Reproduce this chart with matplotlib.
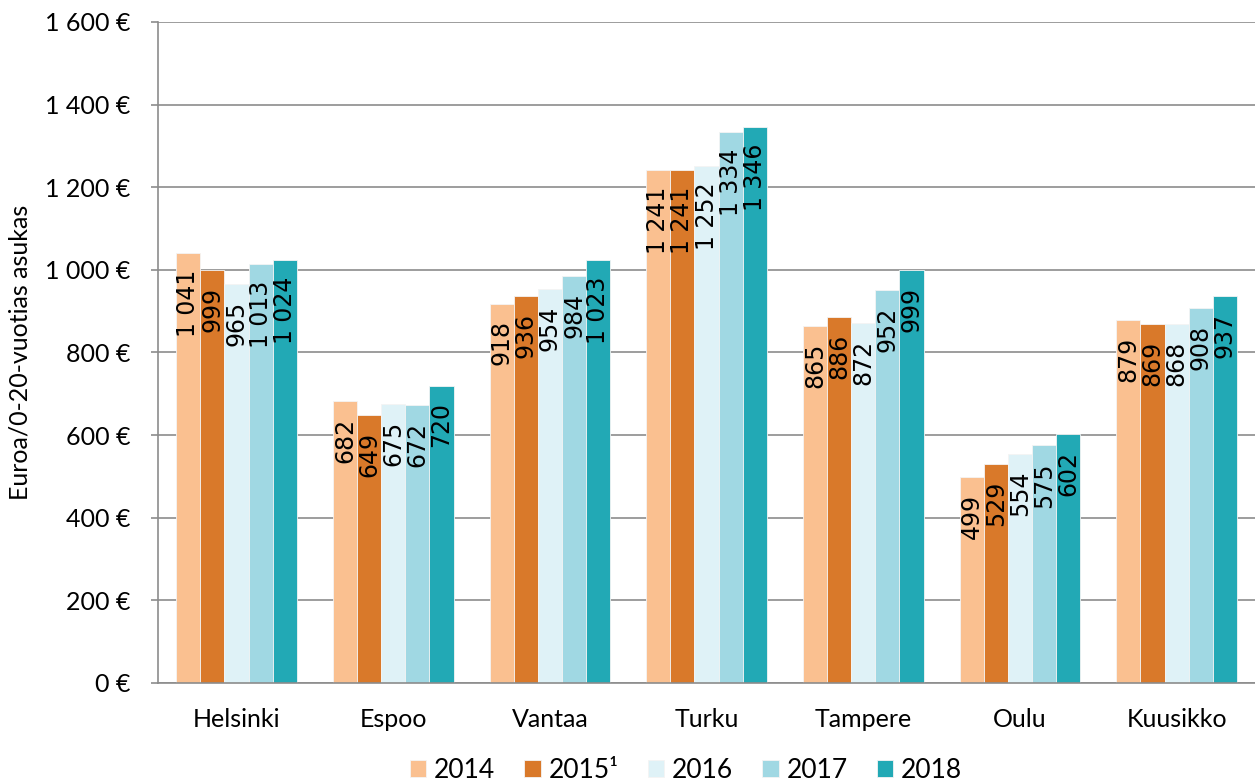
import numpy as np
import matplotlib.pyplot as plt
from matplotlib import rcParams

rcParams["font.family"] = ["Lato", "DejaVu Sans"]

cities = ["Helsinki", "Espoo", "Vantaa", "Turku", "Tampere", "Oulu", "Kuusikko"]
years = ["2014", "2015¹", "2016", "2017", "2018"]
v2014 = [1041, 682, 918, 1241, 865, 499, 879]
v2015 = [999, 649, 936, 1241, 886, 529, 869]
v2016 = [965, 675, 954, 1252, 872, 554, 868]
v2017 = [1013, 672, 984, 1334, 952, 575, 908]
v2018 = [1024, 720, 1023, 1346, 999, 602, 937]
colors = ["#FAC090", "#D9792A", "#DFF2F7", "#A0D8E3", "#22A9B5"]


def fmt(v):
	return f"{v:,}".replace(",", " ")


def main() -> None:
	series = [v2014, v2015, v2016, v2017, v2018]
	fig = plt.figure(figsize=(12.55, 7.82), dpi=100)
	ax = fig.add_axes([0.126, 0.1266, 0.874, 0.8453])

	x = np.arange(len(cities))
	w = 0.154
	for i, (vals, col, lab) in enumerate(zip(series, colors, years)):
		pos = x + (i - 2) * w
		ax.bar(pos, vals, w, color=col, label=lab, edgecolor="#f4f4f4",
			linewidth=0.6, zorder=2)
		for p, v in zip(pos, vals):
			ax.annotate(fmt(v), (p, v), xytext=(0, -12), textcoords="offset points",
				rotation=90, ha="center", va="top", fontsize=17,
				family=["DejaVu Sans"], color="black", zorder=3)

	ax.set_xlim(-0.5, len(cities) - 0.5)
	ax.set_ylim(0, 1600)
	ax.set_yticks(np.arange(0, 1601, 200))
	ax.set_yticklabels([fmt(t) + " €" for t in range(0, 1601, 200)], fontsize=18)
	ax.set_xticks(x)
	ax.set_xticklabels(cities, fontsize=18)
	ax.tick_params(axis="x", length=0, pad=18)
	ax.tick_params(axis="y", length=5, color="#8c8c8c", width=1.2, pad=15)
	ax.grid(axis="y", color="#8c8c8c", linewidth=1.2, zorder=0)
	for s in ["top", "right"]:
		ax.spines[s].set_visible(False)
	for s in ["left", "bottom"]:
		ax.spines[s].set_color("#8c8c8c")
		ax.spines[s].set_linewidth(1.2)
	ax.set_ylabel("Euroa/0-20-vuotias asukas", fontsize=18, labelpad=10)

	fig.legend(loc="center", bbox_to_anchor=(686 / 1255, 1 - 770 / 782),
		ncol=5, frameon=False, fontsize=19, handlelength=0.62, handleheight=0.62,
		columnspacing=1.1, handletextpad=0.3, borderaxespad=0, borderpad=0)

	fig.savefig("out.png", dpi=100)


if __name__ == "__main__":
	main()
